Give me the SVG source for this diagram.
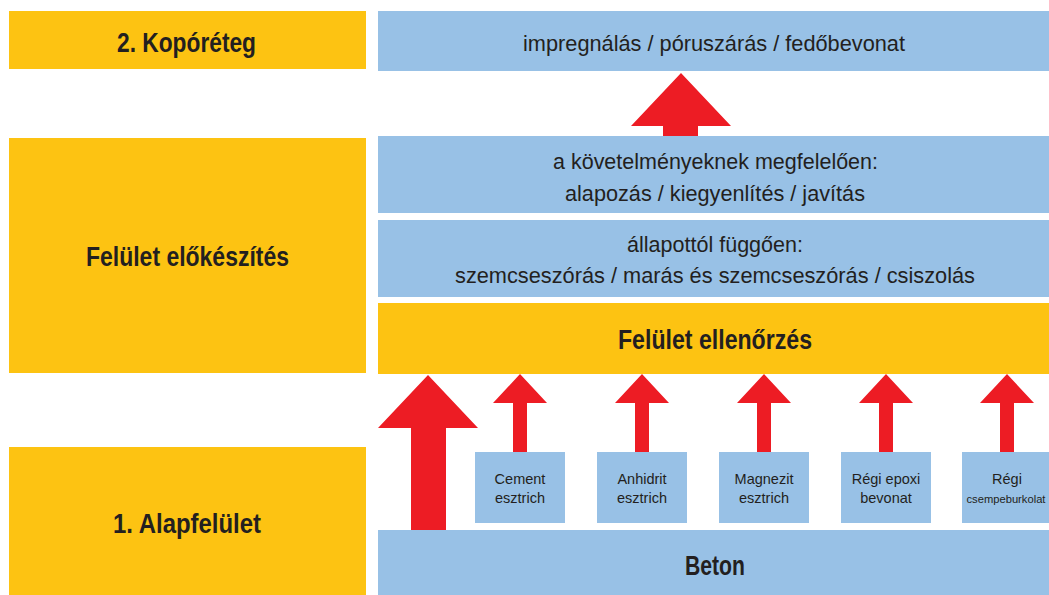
<svg xmlns="http://www.w3.org/2000/svg" width="1049" height="595" viewBox="0 0 1049 595">
<style>
.y{fill:#FDC312}
.b{fill:#98C1E6}
.a{fill:#ED1C24}
.h{font-family:"Liberation Sans",Arial,sans-serif;font-weight:bold;fill:#231F20;text-anchor:middle;font-size:27px}
.t{font-family:"Liberation Sans",Arial,sans-serif;fill:#231F20;text-anchor:middle;font-size:22.5px}
.s{font-family:"Liberation Sans",Arial,sans-serif;fill:#231F20;text-anchor:middle;font-size:14.5px}
</style>
<rect width="1049" height="595" fill="#fff"/>
<g id="n-koporeteg"><rect class="y" x="9" y="11" width="357" height="58"/><text class="h" x="186.5" y="52" textLength="139" lengthAdjust="spacingAndGlyphs">2. Kopóréteg</text></g>
<g id="n-elokeszites"><rect class="y" x="9" y="138" width="357" height="235"/><text class="h" x="187.5" y="266" textLength="203" lengthAdjust="spacingAndGlyphs">Felület előkészítés</text></g>
<g id="n-alapfelulet"><rect class="y" x="9" y="447" width="357" height="148"/><text class="h" x="187" y="533" textLength="148" lengthAdjust="spacingAndGlyphs">1. Alapfelület</text></g>
<g id="n-impregnalas"><rect class="b" x="378" y="11" width="671" height="60"/><text class="t" x="714" y="51" textLength="382" lengthAdjust="spacingAndGlyphs">impregnálás / póruszárás / fedőbevonat</text></g>
<g id="n-alapozas"><rect class="b" x="378" y="136" width="671" height="77"/><text class="t" x="715.5" y="169" textLength="325" lengthAdjust="spacingAndGlyphs">a követelményeknek megfelelően:</text><text class="t" x="715" y="201" textLength="300" lengthAdjust="spacingAndGlyphs">alapozás / kiegyenlítés / javítás</text></g>
<g id="n-szemcseszoras"><rect class="b" x="378" y="220" width="671" height="77"/><text class="t" x="715" y="252" textLength="176" lengthAdjust="spacingAndGlyphs">állapottól függően:</text><text class="t" x="715" y="283" textLength="520" lengthAdjust="spacingAndGlyphs">szemcseszórás / marás és szemcseszórás / csiszolás</text></g>
<g id="n-ellenorzes"><rect class="y" x="378" y="303" width="671" height="71"/><text class="h" x="715" y="349" textLength="194" lengthAdjust="spacingAndGlyphs">Felület ellenőrzés</text></g>
<g id="n-beton"><rect class="b" x="378" y="530" width="671" height="65"/><text class="h" x="715" y="575" textLength="60" lengthAdjust="spacingAndGlyphs">Beton</text></g>
<g id="n-cement"><rect class="b" x="475" y="452" width="90" height="71"/><text class="s" x="520" y="484">Cement</text><text class="s" x="520" y="503">esztrich</text></g>
<g id="n-anhidrit"><rect class="b" x="597" y="452" width="90" height="71"/><text class="s" x="642" y="484">Anhidrit</text><text class="s" x="642" y="503">esztrich</text></g>
<g id="n-magnezit"><rect class="b" x="719" y="452" width="90" height="71"/><text class="s" x="764" y="484">Magnezit</text><text class="s" x="764" y="503">esztrich</text></g>
<g id="n-epoxi"><rect class="b" x="841" y="452" width="90" height="71"/><text class="s" x="886" y="484">Régi epoxi</text><text class="s" x="886" y="503">bevonat</text></g>
<g id="n-csempe"><rect class="b" x="962" y="452" width="87" height="71"/><text class="s" x="1007" y="484">Régi</text><text class="s" x="1006" y="503" style="font-size:11.2px">csempeburkolat</text></g>
<g id="connectors">
<polygon class="a" points="663,136 663,126 631,126 681,73 731,126 698,126 698,136"/>
<polygon class="a" points="411,530 411,428 378,428 428,375 478,428 446,428 446,530"/>
<polygon class="a" points="513,452 513,403 493,403 520,374 547,403 527,403 527,452"/>
<polygon class="a" points="635,452 635,403 615,403 642,374 669,403 649,403 649,452"/>
<polygon class="a" points="757,452 757,403 737,403 764,374 791,403 771,403 771,452"/>
<polygon class="a" points="879,452 879,403 859,403 886,374 913,403 893,403 893,452"/>
<polygon class="a" points="1000,452 1000,403 980,403 1007,374 1034,403 1014,403 1014,452"/>
</g>
</svg>
